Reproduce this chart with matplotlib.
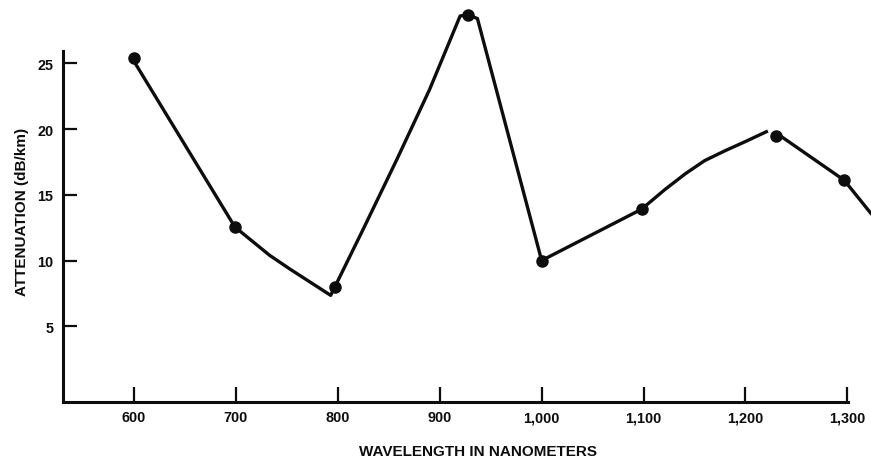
import matplotlib
matplotlib.use("Agg")
import matplotlib.pyplot as plt

# Measured points (markers)
marker_nm = [600, 699, 797, 928, 1000, 1098, 1230, 1297]
marker_db = [25.4, 12.55, 8.0, 28.7, 10.0, 13.9, 19.5, 16.1]

# Traced curve (first part, up to the break)
curve_a_nm = [598, 699, 714, 733, 753, 773, 793, 825, 858, 890, 920, 928, 937,
              1000, 1098, 1121, 1141, 1160, 1180, 1200, 1222]
curve_a_db = [25.4, 12.55, 11.6, 10.4, 9.35, 8.35, 7.35, 12.4, 17.7, 23.0, 28.6, 28.7, 28.4,
              10.0, 13.9, 15.4, 16.6, 17.6, 18.35, 19.05, 19.85]
# Traced curve (second part, after the break)
curve_b_nm = [1232, 1297, 1324]
curve_b_db = [19.6, 16.1, 13.5]

x_ticks = [600, 700, 800, 900, 1000, 1100, 1200, 1300]
x_ticklabels = ["600", "700", "800", "900", "1,000", "1,100", "1,200", "1,300"]
y_ticks = [5, 10, 15, 20, 25]
y_ticklabels = ["5", "10", "15", "20", "25"]

plt.rcParams['font.family'] = ['Liberation Sans', 'DejaVu Sans']

W, H = 871, 460
fig = plt.figure(figsize=(W / 100, H / 100), dpi=100)
ax = fig.add_axes([63 / W, (H - 403) / H, (W - 63) / W, 403 / H])

ink = "#0d0d0d"
ax.plot(curve_a_nm, curve_a_db, color=ink, lw=2.4, solid_capstyle='butt',
        solid_joinstyle='round', clip_on=False)
ax.plot(curve_b_nm, curve_b_db, color=ink, lw=2.4, solid_capstyle='butt',
        solid_joinstyle='round', clip_on=False)
ax.plot(marker_nm, marker_db, 'o', color=ink, ms=8, clip_on=False)

ax.set_xlim(530.3, 1323.2)
ax.set_ylim(-0.76, 29.89)

for s in ['top', 'right']:
    ax.spines[s].set_visible(False)
for s in ['left', 'bottom']:
    ax.spines[s].set_linewidth(2.2)
    ax.spines[s].set_color(ink)
ax.spines['left'].set_bounds(-0.76, 25.93)
ax.spines['bottom'].set_bounds(530.3, 1300.7)

ax.set_xticks(x_ticks)
ax.set_xticklabels(x_ticklabels, fontweight='bold', fontsize=10.4)
ax.set_yticks(y_ticks)
ax.set_yticklabels(y_ticklabels, fontweight='bold', fontsize=10.4)
ax.tick_params(axis='both', direction='in', width=1.6, color=ink, labelcolor=ink)
ax.tick_params(axis='x', length=11, pad=6)
ax.tick_params(axis='y', length=10, pad=7)

fig.text(478 / W, 1 - 452 / H, "WAVELENGTH IN NANOMETERS", ha='center', va='center',
         fontweight='bold', fontsize=11, color=ink)
fig.text(22 / W, 1 - 212 / H, "ATTENUATION (dB/km)", ha='center', va='center',
         rotation=90, fontweight='bold', fontsize=11, color=ink)

fig.savefig("out.png", dpi=100)
